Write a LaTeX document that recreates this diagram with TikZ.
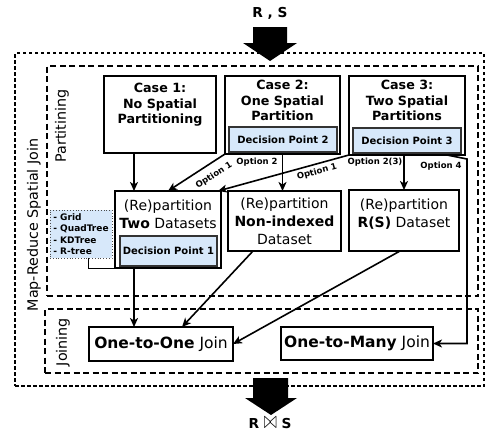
\documentclass[tikz,border=0pt]{standalone}
\usepackage{fontspec}
\usepackage{graphicx}
\setmainfont{DejaVu Sans}
\usetikzlibrary{arrows.meta,calc}
\definecolor{dpblue}{RGB}{215,232,250}
\begin{document}
\begin{tikzpicture}[x=1pt,y=-1pt,
  every node/.style={inner sep=0pt, outer sep=0pt},
  mainbox/.style={draw, line width=1.8pt},
  dpbox/.style={draw=black!80, line width=1.2pt, fill=dpblue, font=\fontsize{10}{12}\selectfont\bfseries},
  listbox/.style={draw=black!70, dotted, line width=0.8pt, fill=dpblue, align=left, font=\fontsize{9}{11.5}\selectfont\bfseries},
  casetext/.style={align=center, font=\fontsize{12.7}{15.5}\selectfont\bfseries},
  boxtext/.style={align=center, font=\fontsize{14}{18}\selectfont},
  joinbox/.style={draw, line width=1.8pt, font=\fontsize{15.5}{18}\selectfont},
  optlabel/.style={font=\fontsize{8.5}{10}\selectfont\bfseries},
  sidelabel/.style={rotate=90, font=\fontsize{14.3}{16}\selectfont},
  bigtext/.style={font=\fontsize{13.7}{16}\selectfont\bfseries},
  outerbox/.style={draw, line width=1.3pt, dash pattern=on 3.5pt off 2.5pt},
  phasebox/.style={draw, line width=1.6pt, dash pattern=on 6pt off 3.5pt},
  arr/.style={-{Stealth[length=9pt,width=8pt,inset=2.5pt]}, line width=1.6pt},
  thinline/.style={line width=1pt}
]
\useasboundingbox (0,0) rectangle (485,434);

% containers
\node[outerbox, minimum width=469pt, minimum height=333pt] (mr) at (249.5,219.5) {};
\node[phasebox, minimum width=431pt, minimum height=230pt] (part) at (262.5,181) {};
\node[phasebox, minimum width=433pt, minimum height=64pt] (join) at (261.5,341) {};

\node[sidelabel] (mrlabel) at (34,225) {Map-Reduce Spatial Join};
\node[sidelabel] (partlabel) at (62,126) {Partitining};
\node[sidelabel] (joinlabel) at (63,342) {Joining};

% cases
\node[mainbox, minimum width=112pt, minimum height=77pt] (c1) at (160,114.5) {};
\node[casetext] (c1t) at (160,105) {Case 1:\\No Spatial\\Partitioning};

\node[mainbox, minimum width=115pt, minimum height=78pt] (c2) at (282.5,115) {};
\node[casetext] (c2t) at (282.5,100.5) {Case 2:\\One Spatial\\Partition};
\node[dpbox, minimum width=108pt, minimum height=25pt] (dp2) at (283,139.5) {Decision Point 2};

\node[mainbox, minimum width=116pt, minimum height=79pt] (c3) at (407,115.5) {};
\node[casetext] (c3t) at (407,100.5) {Case 3:\\Two Spatial\\Partitions};
\node[dpbox, minimum width=108pt, minimum height=25pt] (dp3) at (407,140.5) {Decision Point 3};

% repartition boxes
\node[mainbox, minimum width=106pt, minimum height=77pt] (two) at (168,229.5) {};
\node[boxtext] (twot) at (168,214) {(Re)partition\\\textbf{Two} Datasets};
\node[dpbox, minimum width=97pt, minimum height=30pt] (dp1) at (168.5,251) {Decision Point 1};

\node[mainbox, boxtext, minimum width=113pt, minimum height=60pt] (nonidx) at (284.5,221) {(Re)partition\\\textbf{Non-indexed}\\Dataset};

\node[mainbox, minimum width=110pt, minimum height=61pt] (rs) at (404,220.5) {};
\node[boxtext] (rst) at (404,214) {(Re)partition\\\textbf{R(S)} Dataset};

\node[listbox, minimum width=62pt, minimum height=48pt] (list) at (81,234) {- Grid\\- QuadTree\\- KDTree\\- R-tree};

% join boxes
\node[joinbox, minimum width=144pt, minimum height=34pt] (o2o) at (161,344) {\textbf{One-to-One} Join};
\node[joinbox, minimum width=152pt, minimum height=33pt] (o2m) at (357,343.5) {\textbf{One-to-Many} Join};

% connectors
\coordinate (a1) at ([xshift=30pt]c1.south west);
\draw[arr] (a1) -- (a1 |- two.north);

\draw[arr] (c2.south west) -- (two.north);
\node[optlabel, rotate=31.8] (o1a) at (214,175.5) {Option 1};

\draw[arr] (c2.south) -- (c2.south |- nonidx.north);
\node[optlabel] (o2a) at (257,162) {Option 2};

\draw[arr] (c3.south west) -- ([xshift=-3pt]two.north east);
\node[optlabel, rotate=15.4] (o1b) at (317,172) {Option 1};

\draw[arr] (rs.north |- c3.south) -- (rs.north);
\node[optlabel] (o23) at (375,162) {Option 2(3)};

\coordinate (o4) at (467,159);
\draw[arr] ([xshift=-18pt]c3.south east) -- (o4) |- (o2m.east);
\node[optlabel] (o4l) at (441,166) {Option 4};

\coordinate (d1) at ([xshift=19pt]two.south west);
\draw[arr] (d1) -- (d1 |- o2o.north);
\draw[arr] ([xshift=25pt]nonidx.south west) -- ([xshift=-51pt]o2o.north east);
\draw[arr] ([xshift=-4pt]rs.south) -- (o2o.east);

\coordinate (l1) at ([xshift=38pt]list.south west);
\draw[thinline] (l1) |- (two.south west);

% input / output
\node[bigtext] (rsin) at (270,13) {R , S};
\fill (253,27) -- (287,27) -- (287,43) -- (297,43) -- (270,61) -- (243,43) -- (253,43) -- cycle;
\fill (253,378) -- (288,378) -- (288,398) -- (297,398) -- (271,415) -- (245,398) -- (253,398) -- cycle;
\node[bigtext] (rsout) at (270,422.5) {R \raisebox{0pt}{\scalebox{1.1}[1.7]{$\bowtie$}} S};
\end{tikzpicture}
\end{document}
